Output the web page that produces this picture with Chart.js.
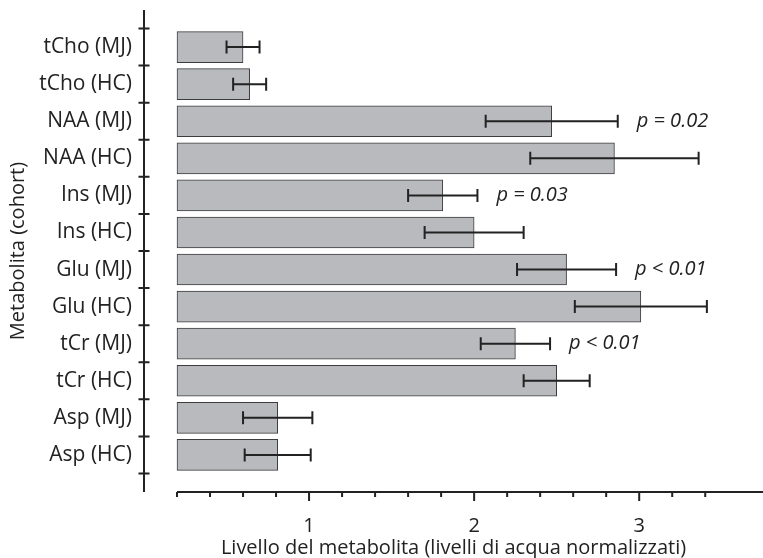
<!DOCTYPE html>
<html>
<head>
<meta charset="utf-8">
<script src="https://cdn.jsdelivr.net/npm/chart.js@4"></script>
<style>
  body { margin: 0; background: #fff; }
  #wrap { width: 763px; height: 558px; }
</style>
</head>
<body>
<div id="wrap"><canvas id="metaboliteChart"></canvas></div>
<script>
// Data
const categories = [
  "tCho (MJ)", "tCho (HC)", "NAA (MJ)", "NAA (HC)", "Ins (MJ)", "Ins (HC)",
  "Glu (MJ)", "Glu (HC)", "tCr (MJ)", "tCr (HC)", "Asp (MJ)", "Asp (HC)"
];
const means = [0.60, 0.64, 2.47, 2.85, 1.81, 2.00, 2.56, 3.01, 2.25, 2.50, 0.81, 0.81];
const errors = [0.10, 0.10, 0.40, 0.51, 0.21, 0.30, 0.30, 0.40, 0.21, 0.20, 0.21, 0.20];
const pLabels = ["", "", "p = 0.02", "", "p = 0.03", "", "p < 0.01", "", "p < 0.01", "", "", ""];
const xTickLabels = [1, 2, 3];

const FONT = "'Open Sans', sans-serif";
const INK = "#222";

// axes are drawn by hand: y axis with ticks crossing the line, x axis starting at 0.2
const axesPlugin = {
  id: "axes",
  afterDraw(chart) {
    const ctx = chart.ctx;
    const x = chart.scales.x;
    const y = chart.scales.y;
    const area = chart.chartArea;
    ctx.save();
    ctx.strokeStyle = INK;
    ctx.lineWidth = 2;

    // y axis line and category boundary ticks
    const x0 = x.getPixelForValue(0);
    ctx.beginPath();
    ctx.moveTo(x0, area.top);
    ctx.lineTo(x0, area.bottom);
    for (let i = 0; i <= categories.length; i++) {
      const py = y.getPixelForValue(i - 0.5);
      ctx.moveTo(x0 - 5.5, py);
      ctx.lineTo(x0 + 5.5, py);
    }
    ctx.stroke();

    // x axis line and ticks
    ctx.beginPath();
    ctx.moveTo(x.getPixelForValue(0.2), area.bottom);
    ctx.lineTo(area.right, area.bottom);
    x.ticks.forEach((t) => {
      const px = x.getPixelForValue(t.value);
      const major = Math.abs(t.value - Math.round(t.value)) < 1e-6;
      ctx.moveTo(px, area.bottom);
      ctx.lineTo(px, area.bottom + (major ? 9 : 5));
    });
    ctx.stroke();
    ctx.restore();
  },
};

const errorBarPlugin = {
  id: "errorBars",
  afterDatasetsDraw(chart) {
    const ctx = chart.ctx;
    const x = chart.scales.x;
    const y = chart.scales.y;
    ctx.save();
    ctx.strokeStyle = INK;
    ctx.lineWidth = 2;
    means.forEach((m, i) => {
      const py = y.getPixelForValue(i);
      const lo = x.getPixelForValue(m - errors[i]);
      const hi = x.getPixelForValue(m + errors[i]);
      ctx.beginPath();
      ctx.moveTo(lo, py);
      ctx.lineTo(hi, py);
      ctx.moveTo(lo, py - 6.5);
      ctx.lineTo(lo, py + 6.5);
      ctx.moveTo(hi, py - 6.5);
      ctx.lineTo(hi, py + 6.5);
      ctx.stroke();

      if (pLabels[i]) {
        ctx.fillStyle = INK;
        ctx.font = "italic 20px " + FONT;
        ctx.textBaseline = "middle";
        ctx.textAlign = "left";
        ctx.fillText(pLabels[i], hi + 19, py);
      }
    });
    ctx.restore();
  },
};

new Chart(document.getElementById("metaboliteChart"), {
  type: "bar",
  data: {
    datasets: [
      {
        data: means.map((m, i) => ({ x: m, y: i })),
        base: 0.2,
        backgroundColor: "#b8babe",
        borderColor: "#3c3c3c",
        borderWidth: 1,
        borderSkipped: false,
        barThickness: 31,
      },
    ],
  },
  options: {
    indexAxis: "y",
    responsive: true,
    maintainAspectRatio: false,
    animation: false,
    devicePixelRatio: 1,
    layout: { padding: { top: 10, right: 0, left: 0, bottom: 0 } },
    scales: {
      x: {
        type: "linear",
        min: 0,
        max: 3.75,
        grid: { display: false, drawTicks: false },
        border: { display: false },
        afterBuildTicks: (scale) => {
          scale.ticks = scale.ticks.filter((t) => t.value > 0.1 && t.value < 3.65);
        },
        afterFit: (scale) => {
          scale.height = 66;
          scale.paddingLeft = 0;
          scale.paddingRight = 0;
        },
        ticks: {
          stepSize: 0.2,
          autoSkip: false,
          maxRotation: 0,
          padding: 22,
          color: INK,
          font: { family: FONT, size: 20 },
          callback: (v) => {
            const r = Math.round(v);
            return Math.abs(v - r) < 1e-6 && xTickLabels.includes(r) ? String(r) : "";
          },
        },
        title: {
          display: true,
          text: "Livello del metabolita (livelli di acqua normalizzati)",
          color: INK,
          font: { family: FONT, size: 20 },
          padding: { top: 0, bottom: -2 },
        },
      },
      y: {
        type: "linear",
        reverse: true,
        offset: false,
        min: -1,
        max: categories.length,
        grid: { display: false, drawTicks: false, offset: false },
        border: { display: false },
        afterBuildTicks: (scale) => {
          scale.ticks = categories.map((c, i) => ({ value: i }));
        },
        afterFit: (scale) => {
          scale.width = 144;
          scale.paddingTop = 0;
          scale.paddingBottom = 0;
        },
        ticks: {
          autoSkip: false,
          padding: 12,
          color: INK,
          font: { family: FONT, size: 21 },
          callback: (v) => categories[v] ?? "",
        },
        title: {
          display: true,
          text: "Metabolita (cohort)",
          color: INK,
          font: { family: FONT, size: 20 },
          padding: { top: 6, bottom: 0 },
        },
      },
    },
    plugins: {
      legend: { display: false },
      tooltip: { enabled: false },
    },
  },
  plugins: [axesPlugin, errorBarPlugin],
});
</script>
</body>
</html>
